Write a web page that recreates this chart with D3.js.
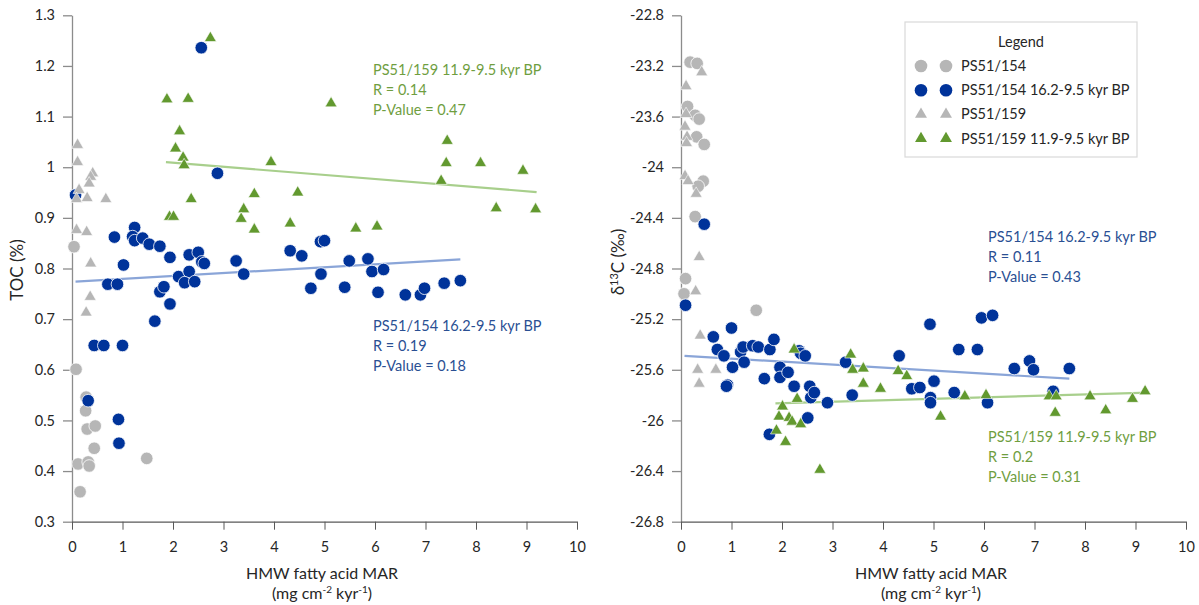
<!DOCTYPE html>
<html>
<head>
<meta charset="utf-8">
<script src="https://cdn.jsdelivr.net/npm/d3@7"></script>
<style>
    body { margin: 0; background: #fff; }
    svg text { font-family: Lato, "Open Sans", sans-serif; fill: #262626; }
</style>
</head>
<body>
<div id="chart"></div>
<script>

// ---- data ----
const xTicks = [0, 1, 2, 3, 4, 5, 6, 7, 8, 9, 10];
const tocTicks = [0.3, 0.4, 0.5, 0.6, 0.7, 0.8, 0.9, 1.0, 1.1, 1.2, 1.3];
const d13cTicks = [-26.8, -26.4, -26, -25.6, -25.2, -24.8, -24.4, -24, -23.6, -23.2, -22.8];

const seriesNames = ["PS51/154", "PS51/154 16.2-9.5 kyr BP", "PS51/159", "PS51/159 11.9-9.5 kyr BP"];

// left panel: TOC (%)
const toc154 = [[0.04,0.843],[0.08,0.601],[0.28,0.546],[0.27,0.519],[0.30,0.483],[0.46,0.489],[0.44,0.445],
    [0.12,0.414],[0.32,0.418],[0.34,0.410],[0.16,0.359],[1.48,0.425]];
const toc154Late = [[0.07,0.945],[2.56,1.236],[2.88,0.988],[0.84,0.862],[1.24,0.881],[1.20,0.863],[1.24,0.855],
    [1.40,0.860],[1.53,0.848],[1.74,0.844],[1.94,0.822],[2.32,0.827],[2.50,0.832],[2.57,0.813],[1.02,0.807],
    [3.25,0.815],[4.32,0.835],[4.55,0.825],[0.71,0.769],[0.90,0.769],[1.74,0.754],[1.82,0.764],[1.94,0.730],
    [2.11,0.784],[2.32,0.794],[2.23,0.772],[2.43,0.774],[2.62,0.810],[3.40,0.789],[1.64,0.696],[0.44,0.648],
    [0.63,0.648],[1.00,0.648],[0.32,0.539],[0.92,0.502],[0.93,0.455],[4.92,0.853],[5.00,0.855],[5.49,0.815],
    [5.86,0.819],[5.94,0.794],[6.17,0.798],[4.93,0.789],[4.73,0.761],[5.40,0.763],[6.06,0.753],[6.60,0.748],
    [6.90,0.748],[6.98,0.761],[7.37,0.771],[7.69,0.776]];
const toc159 = [[0.11,1.044],[0.11,1.010],[0.41,0.988],[0.37,0.981],[0.34,0.968],[0.14,0.955],[0.09,0.937],
    [0.30,0.939],[0.67,0.937],[0.09,0.876],[0.29,0.872],[0.37,0.810],[0.36,0.744],[0.28,0.713]];
const toc159Late = [[1.88,1.134],[2.30,1.135],[2.74,1.255],[2.13,1.071],[2.05,1.037],[2.20,1.019],[2.22,1.004],
    [3.94,1.010],[2.36,0.937],[1.93,0.902],[2.01,0.902],[3.61,0.947],[3.40,0.917],[3.35,0.898],[3.61,0.877],
    [4.32,0.889],[4.47,0.950],[5.13,1.126],[7.43,1.052],[7.41,1.008],[8.09,1.008],[8.93,0.993],[7.31,0.973],
    [8.40,0.919],[9.18,0.917],[5.62,0.879],[6.04,0.883]];
const tocTrend154 = [[0.07,0.774],[7.69,0.818]];
const tocTrend159 = [[1.86,1.010],[9.20,0.951]];
const tocNote154 = ["PS51/154 16.2-9.5 kyr BP", "R = 0.19", "P-Value = 0.18"];
const tocNote159 = ["PS51/159 11.9-9.5 kyr BP", "R = 0.14", "P-Value = 0.47"];

// right panel: d13C (permil)
const d13c154 = [[0.18,-23.17],[0.32,-23.18],[0.13,-23.52],[0.28,-23.59],[0.36,-23.62],[0.31,-23.76],
    [0.46,-23.82],[0.44,-24.11],[0.34,-24.15],[0.28,-24.39],[0.09,-24.88],[0.06,-25.00],[1.49,-25.13]];
const d13c154Late = [[0.46,-24.45],[0.09,-25.09],[1.00,-25.27],[0.64,-25.34],[0.72,-25.44],[0.85,-25.49],
    [1.02,-25.58],[0.92,-25.72],[0.90,-25.73],[1.18,-25.46],[1.23,-25.42],[1.25,-25.54],[1.42,-25.41],
    [1.53,-25.42],[1.65,-25.67],[1.76,-25.44],[1.84,-25.36],[1.96,-25.58],[1.96,-25.66],[2.12,-25.62],
    [2.24,-25.73],[1.75,-26.11],[2.34,-25.45],[2.37,-25.47],[2.46,-25.49],[2.55,-25.73],[2.57,-25.82],
    [2.64,-25.78],[2.51,-25.98],[2.90,-25.86],[3.26,-25.54],[3.39,-25.80],[4.32,-25.49],[4.93,-25.24],
    [4.57,-25.75],[4.73,-25.74],[5.01,-25.69],[4.94,-25.82],[4.94,-25.86],[5.41,-25.78],[5.50,-25.44],
    [5.87,-25.44],[5.95,-25.19],[6.17,-25.17],[6.07,-25.86],[6.60,-25.59],[6.90,-25.53],[6.98,-25.60],
    [7.37,-25.77],[7.69,-25.59]];
const d13c159 = [[0.41,-23.25],[0.10,-23.36],[0.10,-23.58],[0.08,-23.68],[0.12,-23.76],[0.11,-23.81],
    [0.08,-24.07],[0.14,-24.11],[0.30,-24.21],[0.36,-24.71],[0.29,-24.98],[0.38,-25.33],[0.33,-25.60],
    [0.69,-25.60],[0.36,-25.71]];
const d13c159Late = [[2.24,-25.44],[2.01,-25.89],[1.94,-25.97],[2.14,-25.98],[2.20,-26.01],[2.37,-26.03],
    [2.30,-25.83],[1.89,-26.08],[2.07,-26.17],[2.75,-26.39],[3.36,-25.48],[3.40,-25.60],[3.61,-25.59],
    [3.61,-25.71],[3.95,-25.75],[4.30,-25.61],[4.47,-25.65],[5.14,-25.97],[5.62,-25.81],[6.04,-25.80],
    [7.29,-25.81],[7.43,-25.81],[7.41,-25.94],[8.10,-25.81],[8.41,-25.92],[8.94,-25.83],[9.19,-25.77]];
const d13cTrend154 = [[0.07,-25.49],[7.69,-25.67]];
const d13cTrend159 = [[1.87,-25.865],[9.27,-25.78]];
const d13cNote154 = ["PS51/154 16.2-9.5 kyr BP", "R = 0.11", "P-Value = 0.43"];
const d13cNote159 = ["PS51/159 11.9-9.5 kyr BP", "R = 0.2", "P-Value = 0.31"];

// ---- styles ----
const colGray = "#b6b6b6";
const colBlue = "#00339a";
const colGreen = "#62992f";
const colBlueLine = "#8aa5d8";
const colGreenLine = "#a8cf8c";
const colBlueText = "#2a4f93";
const colGreenText = "#6f9e3f";

const W = 1199, H = 605;
const svg = d3.select("#chart").append("svg")
    .attr("width", W)
    .attr("height", H);

const fmt = d => String(+(+d).toFixed(1));

class ScatterPanel {

    constructor(cfg) {
        this.cfg = cfg;
        this.initVis();
    }

    initVis() {
        let vis = this;
        let c = vis.cfg;

        vis.g = svg.append("g");

        vis.x = d3.scaleLinear().domain([0, 10]).range([c.left, c.left + 505]);
        vis.y = d3.scaleLinear().domain(c.yDomain).range([521.7, 15.3]);

        // y axis
        let ya = vis.g.append("g")
            .attr("transform", "translate(" + c.left + ",0)")
            .call(d3.axisLeft(vis.y).tickValues(c.yTicks).tickFormat(fmt).tickSize(9).tickPadding(8).tickSizeOuter(0));
        ya.select(".domain").attr("stroke", "#8c8c8c").attr("stroke-width", 1.3);
        ya.selectAll(".tick line").attr("stroke", "#8c8c8c").attr("stroke-width", 1.3);
        ya.selectAll(".tick text").attr("font-size", 14.5).attr("fill", "#262626")
            .style("font-family", "Lato, 'Open Sans', sans-serif");

        // x axis
        let xa = vis.g.append("g")
            .attr("transform", "translate(0,521.7)")
            .call(d3.axisBottom(vis.x).tickValues(xTicks).tickSize(8).tickPadding(12).tickSizeOuter(0));
        xa.select(".domain").attr("stroke", "#595959").attr("stroke-width", 1.3);
        xa.selectAll(".tick line").attr("stroke", "#595959").attr("stroke-width", 1);
        xa.selectAll(".tick text").attr("font-size", 14.5).attr("fill", "#262626")
            .style("font-family", "Lato, 'Open Sans', sans-serif");

        // axis titles
        let cx = c.left + 250;
        vis.g.append("text")
            .attr("x", cx).attr("y", 579)
            .attr("text-anchor", "middle").attr("font-size", 16)
            .text("HMW fatty acid MAR");
        let sub = vis.g.append("text")
            .attr("x", cx).attr("y", 599)
            .attr("text-anchor", "middle").attr("font-size", 16);
        sub.append("tspan").text("(mg cm");
        sub.append("tspan").attr("baseline-shift", "super").attr("font-size", 10).text("-2");
        sub.append("tspan").text(" kyr");
        sub.append("tspan").attr("baseline-shift", "super").attr("font-size", 10).text("-1");
        sub.append("tspan").text(")");

        let yt = vis.g.append("text")
            .attr("transform", "translate(" + c.yTitleX + "," + c.yTitleY + ") rotate(-90)")
            .attr("text-anchor", "middle").attr("font-size", 17);
        c.yTitle.forEach(p => {
            let t = yt.append("tspan").text(p.t);
            if (p.sup) t.attr("baseline-shift", "super").attr("font-size", 11);
        });

        vis.updateVis();
    }

    updateVis() {
        let vis = this;
        let c = vis.cfg;

        let line = d3.line().x(d => vis.x(d[0])).y(d => vis.y(d[1]));
        vis.g.append("path").datum(c.trend154).attr("d", line)
            .attr("fill", "none").attr("stroke", colBlueLine).attr("stroke-width", 2.2);
        vis.g.append("path").datum(c.trend159).attr("d", line)
            .attr("fill", "none").attr("stroke", colGreenLine).attr("stroke-width", 2.2);

        let tri = d3.symbol().type(d3.symbolTriangle).size(62);

        // same drawing order as the legend
        vis.g.append("g").selectAll("circle").data(c.s154).enter().append("circle")
            .attr("cx", d => vis.x(d[0])).attr("cy", d => vis.y(d[1])).attr("r", 6.3)
            .attr("fill", colGray).attr("stroke", "#fff").attr("stroke-width", 0.8);
        vis.g.append("g").selectAll("circle").data(c.s154Late).enter().append("circle")
            .attr("cx", d => vis.x(d[0])).attr("cy", d => vis.y(d[1])).attr("r", 6.3)
            .attr("fill", colBlue).attr("stroke", "#fff").attr("stroke-width", 0.8);
        vis.g.append("g").selectAll("path").data(c.s159).enter().append("path")
            .attr("d", tri)
            .attr("transform", d => "translate(" + vis.x(d[0]) + "," + vis.y(d[1]) + ")")
            .attr("fill", colGray).attr("stroke", "#fff").attr("stroke-width", 0.6);
        vis.g.append("g").selectAll("path").data(c.s159Late).enter().append("path")
            .attr("d", tri)
            .attr("transform", d => "translate(" + vis.x(d[0]) + "," + vis.y(d[1]) + ")")
            .attr("fill", colGreen).attr("stroke", "#fff").attr("stroke-width", 0.6);

        // annotations
        c.notes.forEach(n => {
            vis.g.append("g").selectAll("text").data(n.lines).enter().append("text")
                .attr("x", n.x).attr("y", (d, i) => n.y + i * 20)
                .attr("font-size", 14.5)
                .style("fill", n.color)
                .text(d => d);
        });
    }
}

new ScatterPanel({
    left: 72,
    yDomain: [0.3, 1.3],
    yTicks: tocTicks,
    yTitle: [{t: "TOC (%)"}],
    yTitleX: 23, yTitleY: 270,
    s154: toc154, s154Late: toc154Late, s159: toc159, s159Late: toc159Late,
    trend154: tocTrend154, trend159: tocTrend159,
    notes: [
        {lines: tocNote159, x: 373, y: 75, color: colGreenText},
        {lines: tocNote154, x: 373, y: 331, color: colBlueText}
    ]
});

new ScatterPanel({
    left: 681,
    yDomain: [-26.8, -22.8],
    yTicks: d13cTicks,
    yTitle: [{t: "δ"}, {t: "13", sup: true}, {t: "C (‰)"}],
    yTitleX: 624, yTitleY: 262,
    s154: d13c154, s154Late: d13c154Late, s159: d13c159, s159Late: d13c159Late,
    trend154: d13cTrend154, trend159: d13cTrend159,
    notes: [
        {lines: d13cNote154, x: 988, y: 242, color: colBlueText},
        {lines: d13cNote159, x: 988, y: 442, color: colGreenText}
    ]
});

// legend
const legendColors = [colGray, colBlue, colGray, colGreen];
const legendShapes = ["circle", "circle", "triangle", "triangle"];
const lg = svg.append("g");
lg.append("rect")
    .attr("x", 905).attr("y", 22).attr("width", 232).attr("height", 135)
    .attr("fill", "#fff").attr("stroke", "#d9d9d9").attr("stroke-width", 1.2);
lg.append("text").attr("x", 1021).attr("y", 47)
    .attr("text-anchor", "middle").attr("font-size", 14.5).text("Legend");
seriesNames.forEach((name, i) => {
    let yy = 66 + i * 24.2;
    [921, 946].forEach(xx => {
        if (legendShapes[i] === "circle") {
            lg.append("circle").attr("cx", xx).attr("cy", yy).attr("r", 6.3).attr("fill", legendColors[i]);
        } else {
            lg.append("path").attr("d", d3.symbol().type(d3.symbolTriangle).size(62))
                .attr("transform", "translate(" + xx + "," + yy + ")")
                .attr("fill", legendColors[i]);
        }
    });
    lg.append("text").attr("x", 961).attr("y", yy + 5)
        .attr("font-size", 14.5).text(name);
});

</script>
</body>
</html>
